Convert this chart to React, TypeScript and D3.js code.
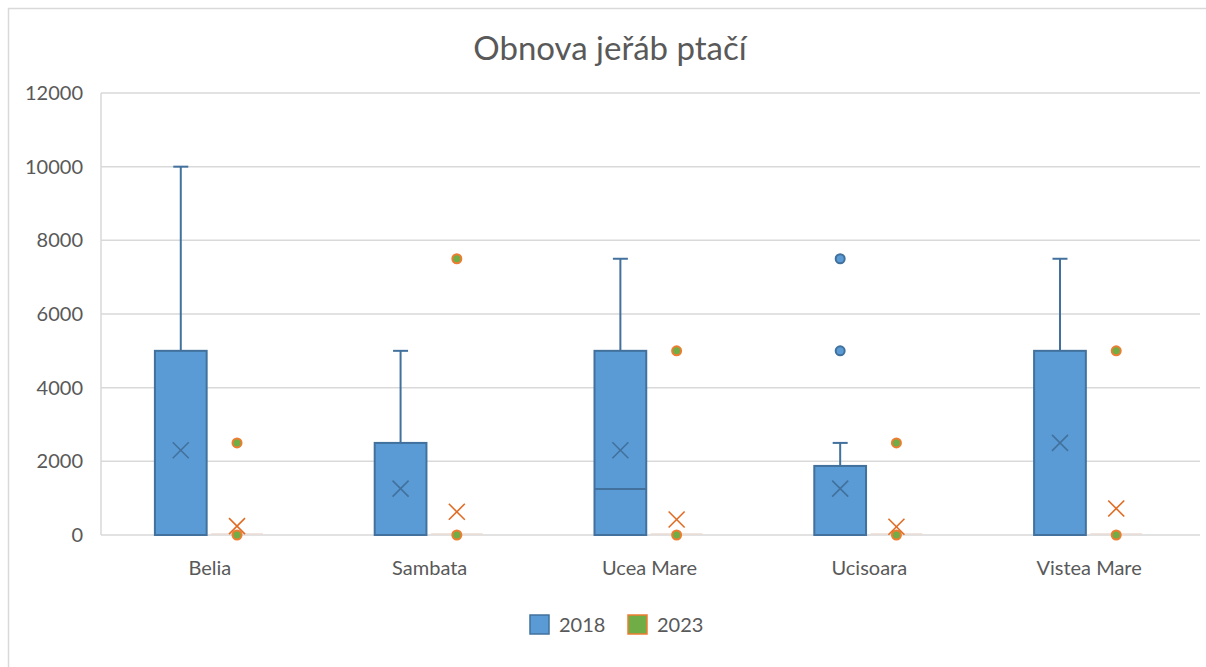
import React from "react";
import * as d3 from "d3";

const categories = ["Belia", "Sambata", "Ucea Mare", "Ucisoara", "Vistea Mare"];
const seriesNames = ["2018", "2023"];
const yTicks = [0, 2000, 4000, 6000, 8000, 10000, 12000];

// 2018 statistics
const min2018 = [0, 0, 0, 0, 0];
const q1_2018 = [0, 0, 0, 0, 0];
const median2018 = [0, 0, 1250, 0, 0];
const q3_2018 = [5000, 2500, 5000, 1875, 5000];
const max2018 = [10000, 5000, 7500, 2500, 7500];
const mean2018 = [2300, 1260, 2300, 1260, 2500];
const points2018: number[][] = [[], [], [], [5000, 7500], []];

// 2023 statistics
const min2023 = [0, 0, 0, 0, 0];
const q1_2023 = [0, 0, 0, 0, 0];
const median2023 = [0, 0, 0, 0, 0];
const q3_2023 = [0, 0, 0, 0, 0];
const max2023 = [0, 0, 0, 0, 0];
const mean2023 = [240, 630, 420, 225, 720];
const points2023: number[][] = [[0, 2500], [0, 7500], [0, 5000], [0, 2500], [0, 5000]];

const W = 1206;
const H = 667;
const plotLeft = 101;
const plotRight = 1200;
const plotTop = 93;
const plotBottom = 535;
const FONT = "Lato, 'Open Sans', sans-serif";
const TEXT = "#595959";

const styles = [
  { fill: "#5B9BD5", stroke: "#41719C", mean: "#41719C" },
  { fill: "#70AD47", stroke: "#ED7D31", mean: "#E06B23" },
];

export default function App() {
  const x = d3.scaleBand<string>().domain(categories).range([plotLeft, plotRight]);
  const inner = d3.scaleBand<string>().domain(seriesNames).range([-56, 52]).paddingInner(0.08);
  const y = d3.scaleLinear().domain([0, 12000]).range([plotBottom, plotTop]);

  const series = [
    { name: "2018", min: min2018, q1: q1_2018, med: median2018, q3: q3_2018, max: max2018, mean: mean2018, pts: points2018 },
    { name: "2023", min: min2023, q1: q1_2023, med: median2023, q3: q3_2023, max: max2023, mean: mean2023, pts: points2023 },
  ];
  const bw = inner.bandwidth();

  return (
    <svg width={W} height={H} style={{ position: "absolute", left: 0, top: 0, fontFamily: FONT }}>
      <rect x={0} y={0} width={W} height={H} fill="#fff" />
      <rect x={8.5} y={8.5} width={W + 10} height={H + 10} fill="none" stroke="#D9D9D9" strokeWidth={1.5} />
      <text x={610} y={60} textAnchor="middle" fontSize={33} fill={TEXT}>Obnova jeřáb ptačí</text>

      {yTicks.map((t) => (
        <g key={t}>
          <line x1={plotLeft} x2={plotRight} y1={y(t)} y2={y(t)} stroke="#D9D9D9" strokeWidth={1.5} />
          <text x={83} y={y(t)} dy="0.35em" textAnchor="end" fontSize={20} fill={TEXT}>{t}</text>
        </g>
      ))}
      <line x1={plotLeft} x2={plotLeft} y1={plotTop} y2={plotBottom} stroke="#D9D9D9" strokeWidth={1.5} />

      {categories.map((c) => (
        <text key={c} x={x(c)! + x.bandwidth() / 2 - 1} y={568} dy="0.35em" textAnchor="middle" fontSize={20} fill={TEXT}>{c}</text>
      ))}

      {series.map((s, si) => {
        const st = styles[si];
        return categories.map((c, i) => {
          const cx = x(c)! + x.bandwidth() / 2 + inner(s.name)! + bw / 2;
          const x0 = cx - bw / 2;
          const boxTop = y(s.q3[i]);
          const boxBot = y(s.q1[i]);
          const flat = boxBot - boxTop < 1;
          return (
            <g key={s.name + c}>
              {s.max[i] > s.q3[i] && (
                <g>
                  <line x1={cx} x2={cx} y1={y(s.max[i])} y2={boxTop} stroke={st.stroke} strokeWidth={2} />
                  <line x1={cx - 7.5} x2={cx + 7.5} y1={y(s.max[i])} y2={y(s.max[i])} stroke={st.stroke} strokeWidth={2} />
                </g>
              )}
              {s.min[i] < s.q1[i] && (
                <g>
                  <line x1={cx} x2={cx} y1={y(s.min[i])} y2={boxBot} stroke={st.stroke} strokeWidth={2} />
                  <line x1={cx - 7.5} x2={cx + 7.5} y1={y(s.min[i])} y2={y(s.min[i])} stroke={st.stroke} strokeWidth={2} />
                </g>
              )}
              {flat ? (
                <line x1={x0} x2={x0 + bw} y1={boxTop - 1} y2={boxTop - 1} stroke="#EADCD3" strokeWidth={1.5} />
              ) : (
                <rect x={x0} y={boxTop} width={bw} height={boxBot - boxTop} fill={st.fill} stroke={st.stroke} strokeWidth={2} />
              )}
              {!flat && s.med[i] > s.q1[i] && s.med[i] < s.q3[i] && (
                <line x1={x0} x2={x0 + bw} y1={y(s.med[i])} y2={y(s.med[i])} stroke={st.stroke} strokeWidth={2} />
              )}
              {s.pts[i].map((p, k) => (
                <circle key={k} cx={cx} cy={y(p)} r={4.5} fill={st.fill} stroke={st.stroke} strokeWidth={2} />
              ))}
              <g stroke={st.mean} strokeWidth={1.6}>
                <line x1={cx - 8} x2={cx + 8} y1={y(s.mean[i]) - 8} y2={y(s.mean[i]) + 8} />
                <line x1={cx - 8} x2={cx + 8} y1={y(s.mean[i]) + 8} y2={y(s.mean[i]) - 8} />
              </g>
            </g>
          );
        });
      })}

      <g>
        <rect x={530} y={615} width={19} height={19} fill={styles[0].fill} stroke={styles[0].stroke} strokeWidth={1.5} />
        <text x={559} y={625} dy="0.35em" fontSize={20} fill={TEXT}>2018</text>
        <rect x={628} y={615} width={19} height={19} fill={styles[1].fill} stroke={styles[1].stroke} strokeWidth={1.5} />
        <text x={657} y={625} dy="0.35em" fontSize={20} fill={TEXT}>2023</text>
      </g>
    </svg>
  );
}
